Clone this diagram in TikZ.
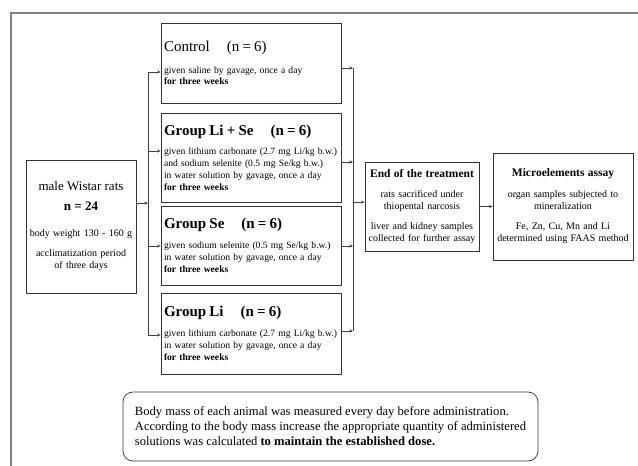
\documentclass[tikz,border=0pt]{standalone}
\usepackage{fontspec}
\setmainfont{Liberation Serif}
\usetikzlibrary{arrows.meta}

\begin{document}
\begin{tikzpicture}[x=1pt,y=-1pt]
        \tikzstyle{frame}=[draw=black!50,line width=1.6pt]
        \tikzstyle{box}=[draw=black!80,line width=0.7pt,align=center,inner sep=2pt,font=\fontsize{10}{12}\selectfont]
        \tikzstyle{group}=[draw=black!80,line width=0.7pt,minimum width=180pt,text width=174pt,inner xsep=3pt,align=left,font=\fontsize{9.6}{11.8}\selectfont]
        \tikzstyle{note}=[draw=black!80,line width=0.7pt,rounded corners=10pt,minimum width=415pt,minimum height=69pt,align=left,font=\fontsize{12.6}{15}\selectfont]
        \tikzstyle{line}=[draw=black!75,line width=0.6pt]
        \tikzstyle{edge}=[line,-{Stealth[length=3.5pt,width=3pt]}]
        \useasboundingbox (0,0) rectangle (638,466);
        % outer frame, cut by the page edge
        \draw[frame] (11,480) -- (11,13) -- (650,13);
        \node [box,minimum width=110pt,minimum height=133pt,text width=106pt] (rats) at (81,226.5) {{\fontsize{13}{15}\selectfont male Wistar rats}\\[8pt]
                {\fontsize{13}{15}\selectfont\bfseries n = 24}\\[14pt]
                body weight 130 - 160 g\\[8pt]
                acclimatization period\\ of three days};
        \node [group,minimum height=80pt] (ctrl) at (251,63) {{\fontsize{15}{17}\selectfont Control\hspace{17pt}(n = 6)}\\[10pt]
                given saline by gavage, once a day\\ \textbf{for three weeks}};
        \node [group,minimum height=89pt] (lise) at (251,157.5) {{\fontsize{15}{17}\selectfont\bfseries Group Li + Se\hspace{17pt}(n = 6)}\\[8pt]
                given lithium carbonate (2.7 mg Li/kg b.w.)\\ and sodium selenite (0.5 mg Se/kg b.w.)\\ in water solution by gavage, once a day\\ \textbf{for three weeks}};
        \node [group,minimum height=79pt] (se) at (251,245.5) {{\fontsize{15}{17}\selectfont\bfseries Group Se\hspace{17pt}(n = 6)}\\[8pt]
                given sodium selenite (0.5 mg Se/kg b.w.)\\ in water solution by gavage, once a day\\ \textbf{for three weeks}};
        \node [group,minimum height=81pt] (li) at (251,333.5) {{\fontsize{15}{17}\selectfont\bfseries Group Li\hspace{17pt}(n = 6)}\\[8pt]
                given lithium carbonate (2.7 mg Li/kg b.w.)\\ in water solution by gavage, once a day\\ \textbf{for three weeks}};
        \node [box,minimum width=114pt,minimum height=89pt,text width=110pt] (endt) at (422,206.5) {{\fontsize{11.5}{13}\selectfont\bfseries End of the treatment}\\[8.5pt]
                rats sacrificed under\\ thiopental narcosis\\[7.5pt]
                liver and kidney samples\\ collected for further assay};
        \node [box,minimum width=140pt,minimum height=107pt,text width=136pt] (assay) at (563,206.5) {{\fontsize{11.5}{13}\selectfont\bfseries Microelements assay}\\[9pt]
                organ samples subjected to\\ mineralization\\[8pt]
                Fe, Zn, Cu, Mn and Li\\ determined using FAAS method};
        \node [note] (note) at (330.5,426.5) {Body mass of each animal was measured every day before administration.\\
                According to the body mass increase the appropriate quantity of administered\\
                solutions was calculated \textbf{to maintain the established dose.}};
        % bus lines
        \coordinate (l0) at (148,203);
        \coordinate (l1) at (148,72);
        \coordinate (l2) at (148,151);
        \coordinate (l3) at (148,246);
        \coordinate (l4) at (148,335);
        \coordinate (r0) at (353,202);
        \coordinate (r1) at (353,68);
        \coordinate (r2) at (353,162);
        \coordinate (r3) at (353,246);
        \coordinate (r4) at (353,331);
        \path[line] (l1) -- (l4);
        \path[line] (r1) -- (r4);
        \path[edge] (l0 -| rats.east) -- (l0);
        \foreach \g/\c in {ctrl/l1,lise/l2,se/l3,li/l4}
                \path[edge] (\c) -- (\c -| \g.west);
        \foreach \g/\c in {ctrl/r1,lise/r2,se/r3,li/r4}
                \path[edge] (\c -| \g.east) -- (\c);
        \path[edge] (r0) -- (r0 -| endt.west);
        \path[edge] (endt) -- (assay);
\end{tikzpicture}
\end{document}
